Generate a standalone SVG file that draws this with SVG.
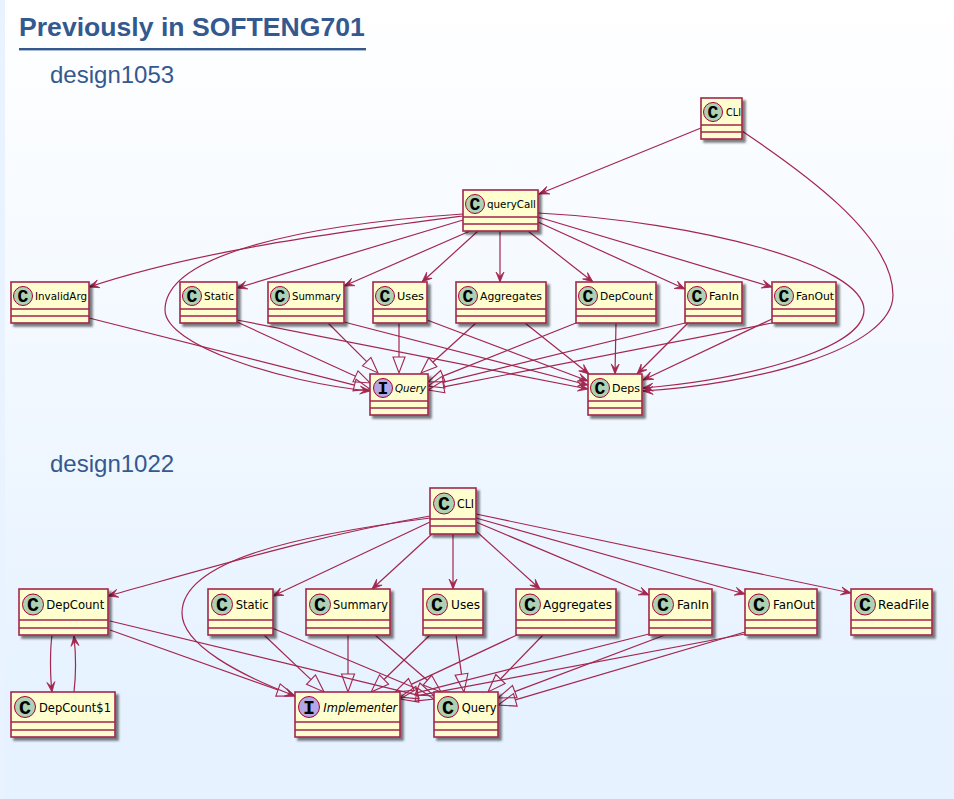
<svg xmlns="http://www.w3.org/2000/svg" width="954" height="799" viewBox="0 0 954 799">
<style>
.n{fill:#FEFECE;stroke:#A3264E;stroke-width:1.6;filter:url(#sh)}
.d{stroke:#A3264E;stroke-width:1.4;fill:none}
.c{fill:#ADD1B2;stroke:#A80036;stroke-width:1}
.i{fill:#B4A7E5;stroke:#A80036;stroke-width:1}
.g{font-family:"Liberation Mono",monospace;font-weight:bold;fill:#000;text-anchor:middle}
.g1{font-size:18px}
.g2{font-size:20px}
.t{font-family:"DejaVu Sans",sans-serif;fill:#000}
.t1{font-size:10.2px}
.t2{font-size:11.7px}
.it{font-style:italic}
.h{font-family:"Liberation Sans",Arial,sans-serif;fill:#34598F}
#edges path{fill:none;stroke:#A3264E;stroke-width:1.2}
.a{marker-end:url(#arrow)}
.e1{marker-end:url(#tri1)}
.e2{marker-end:url(#tri2)}
</style>
<defs>
<linearGradient id="bg" x1="0" y1="0" x2="0" y2="1">
<stop offset="0" stop-color="#FFFFFF"/>
<stop offset="0.88" stop-color="#E6F2FF"/>
<stop offset="1" stop-color="#E6F2FF"/>
</linearGradient>
<filter id="sh" x="-20%" y="-20%" width="140%" height="140%">
<feDropShadow dx="3" dy="3" stdDeviation="1" flood-color="#000" flood-opacity="0.5"/>
</filter>
<marker id="arrow" markerUnits="userSpaceOnUse" markerWidth="12" markerHeight="10" refX="10" refY="4.5" orient="auto" overflow="visible">
<path d="M10,4.5 L0,0.5 L4.5,4.5 L0,8.5 Z" fill="#A3264E" stroke="#A3264E" stroke-width="0.8"/>
</marker>
<marker id="tri1" markerUnits="userSpaceOnUse" markerWidth="18" markerHeight="14" refX="0" refY="7" orient="auto" overflow="visible">
<path d="M0,1 L16,7 L0,13 Z" fill="none" stroke="#A3264E" stroke-width="1.1"/>
</marker>
<marker id="tri2" markerUnits="userSpaceOnUse" markerWidth="20" markerHeight="15" refX="0" refY="7" orient="auto" overflow="visible">
<path d="M0,0.5 L18,7 L0,13.5 Z" fill="none" stroke="#A3264E" stroke-width="1.1"/>
</marker>
</defs>
<rect x="0" y="0" width="954" height="799" fill="url(#bg)"/>
<rect x="0" y="0" width="5" height="799" fill="#E8F3FF"/>
<text class="h" x="19" y="36" font-size="26.6" font-weight="bold">Previously in SOFTENG701</text>
<rect x="19" y="48" width="347" height="2.4" fill="#34598F"/>
<text class="h" x="50" y="83" font-size="24">design1053</text>
<text class="h" x="50" y="472" font-size="24">design1022</text>

<g id="edges">
<path class="a" d="M701,128 L539,194"/>
<path class="a" d="M742,131 C800,170 893,235 893,295 C893,350 750,385 643,391"/>
<path class="a" d="M463,216 C340,232 200,250 89,287"/>
<path class="a" d="M463,214 C300,225 165,255 165,310 C165,345 280,382 370,391"/>
<path class="a" d="M463,220 L237,288"/>
<path class="a" d="M470,231 L344,286"/>
<path class="a" d="M478,231 L422,282"/>
<path class="a" d="M500,231 L500,282"/>
<path class="a" d="M528,231 L593,282"/>
<path class="a" d="M538,222 L685,289"/>
<path class="a" d="M538,217 L772,287"/>
<path class="a" d="M538,213 C700,222 864,265 864,310 C864,350 740,380 643,388"/>
<path class="e1" d="M89,318 L354.5,385.1"/>
<path class="e1" d="M237,322 L355.5,376.3"/>
<path class="e1" d="M328,323 L366.7,361.7"/>
<path class="e1" d="M399,323 L399,357"/>
<path class="e1" d="M476,323 L432.8,362.2"/>
<path class="e1" d="M576,323 L442.9,376.1"/>
<path class="e1" d="M685,323 L443.5,382.2"/>
<path class="e1" d="M772,323 L443.7,386.9"/>
<path class="a" d="M237,320 L588,389"/>
<path class="a" d="M344,322 L588,385"/>
<path class="a" d="M427,320 L588,381"/>
<path class="a" d="M525,323 L589,374"/>
<path class="a" d="M616,323 L615,374"/>
<path class="a" d="M688,323 L637,374"/>
<path class="a" d="M772,319 L643,380"/>

<path class="a" d="M430,516 C320,535 220,565 108,596"/>
<path class="a" d="M430,518 C300,535 182,560 182,613 C182,645 240,675 295,696"/>
<path class="a" d="M430,522 L273,596"/>
<path class="a" d="M432,534 L372,589"/>
<path class="a" d="M453,534 L453,589"/>
<path class="a" d="M476,531 L540,589"/>
<path class="a" d="M476,522 L649,595"/>
<path class="a" d="M476,518 L745,594"/>
<path class="a" d="M476,514 L851,593"/>
<path class="a" d="M52,635 C50,650 50,675 52,692"/>
<path class="a" d="M74,692 C76,675 76,655 74,636"/>
<path class="e2" d="M110,630 L278,690"/>
<path class="e2" d="M264,635 L311,679.6"/>
<path class="e2" d="M348,635 L348,674"/>
<path class="e2" d="M430,635 L384,679.5"/>
<path class="e2" d="M517,635 L411.3,684.4"/>
<path class="e2" d="M649,634 L417.5,692.6"/>
<path class="e2" d="M745,634 L417.7,695.7"/>
<path class="e2" d="M110,621 L416.5,694.8"/>
<path class="e2" d="M272,628 L417.4,689"/>
<path class="e2" d="M375,635 L427.4,680.2"/>
<path class="e2" d="M456,635 L461.5,674.2"/>
<path class="e2" d="M543,635 L500.5,679"/>
<path class="e2" d="M665,635 L514.8,691.6"/>
<path class="e2" d="M745,632 L515.3,699.9"/>
</g>

<g id="d1-cli"><rect class="n" x="701" y="98" width="41" height="41"/><path class="d" d="M701,125 H742 M701,132 H742"/><circle class="c" cx="713" cy="112" r="9.5"/><text class="g g1" x="713" y="117.5">C</text><text class="t t1" x="726" y="116" textLength="15" lengthAdjust="spacingAndGlyphs">CLI</text></g>
<g id="d1-querycall"><rect class="n" x="463" y="190" width="75" height="41"/><path class="d" d="M463,217 H538 M463,224 H538"/><circle class="c" cx="475" cy="204" r="9.5"/><text class="g g1" x="475" y="209.5">C</text><text class="t t1" x="487" y="208" textLength="49" lengthAdjust="spacingAndGlyphs">queryCall</text></g>
<g id="d1-invalidarg"><rect class="n" x="11" y="282" width="78" height="41"/><path class="d" d="M11,309 H89 M11,316 H89"/><circle class="c" cx="23" cy="296" r="9.5"/><text class="g g1" x="23" y="301.5">C</text><text class="t t1" x="35" y="300" textLength="52" lengthAdjust="spacingAndGlyphs">InvalidArg</text></g>
<g id="d1-static"><rect class="n" x="180" y="282" width="57" height="41"/><path class="d" d="M180,309 H237 M180,316 H237"/><circle class="c" cx="192" cy="296" r="9.5"/><text class="g g1" x="192" y="301.5">C</text><text class="t t1" x="204" y="300" textLength="30" lengthAdjust="spacingAndGlyphs">Static</text></g>
<g id="d1-summary"><rect class="n" x="268" y="282" width="76" height="41"/><path class="d" d="M268,309 H344 M268,316 H344"/><circle class="c" cx="280" cy="296" r="9.5"/><text class="g g1" x="280" y="301.5">C</text><text class="t t1" x="292" y="300" textLength="49" lengthAdjust="spacingAndGlyphs">Summary</text></g>
<g id="d1-uses"><rect class="n" x="373" y="282" width="54" height="41"/><path class="d" d="M373,309 H427 M373,316 H427"/><circle class="c" cx="385" cy="296" r="9.5"/><text class="g g1" x="385" y="301.5">C</text><text class="t t1" x="397" y="300" textLength="27" lengthAdjust="spacingAndGlyphs">Uses</text></g>
<g id="d1-aggregates"><rect class="n" x="456" y="282" width="90" height="41"/><path class="d" d="M456,309 H546 M456,316 H546"/><circle class="c" cx="468" cy="296" r="9.5"/><text class="g g1" x="468" y="301.5">C</text><text class="t t1" x="480" y="300" textLength="62" lengthAdjust="spacingAndGlyphs">Aggregates</text></g>
<g id="d1-depcount"><rect class="n" x="576" y="282" width="80" height="41"/><path class="d" d="M576,309 H656 M576,316 H656"/><circle class="c" cx="588" cy="296" r="9.5"/><text class="g g1" x="588" y="301.5">C</text><text class="t t1" x="600" y="300" textLength="53" lengthAdjust="spacingAndGlyphs">DepCount</text></g>
<g id="d1-fanin"><rect class="n" x="685" y="282" width="57" height="41"/><path class="d" d="M685,309 H742 M685,316 H742"/><circle class="c" cx="697" cy="296" r="9.5"/><text class="g g1" x="697" y="301.5">C</text><text class="t t1" x="709" y="300" textLength="30" lengthAdjust="spacingAndGlyphs">FanIn</text></g>
<g id="d1-fanout"><rect class="n" x="772" y="282" width="64" height="41"/><path class="d" d="M772,309 H836 M772,316 H836"/><circle class="c" cx="784" cy="296" r="9.5"/><text class="g g1" x="784" y="301.5">C</text><text class="t t1" x="796" y="300" textLength="38" lengthAdjust="spacingAndGlyphs">FanOut</text></g>
<g id="d1-query"><rect class="n" x="370" y="374" width="58" height="41"/><path class="d" d="M370,401 H428 M370,408 H428"/><circle class="i" cx="383" cy="388" r="9.5"/><text class="g g1" x="383" y="393.5">I</text><text class="t t1 it" x="395" y="392" textLength="31" lengthAdjust="spacingAndGlyphs">Query</text></g>
<g id="d1-deps"><rect class="n" x="588" y="374" width="54" height="41"/><path class="d" d="M588,401 H642 M588,408 H642"/><circle class="c" cx="600" cy="388" r="9.5"/><text class="g g1" x="600" y="393.5">C</text><text class="t t1" x="612" y="392" textLength="28" lengthAdjust="spacingAndGlyphs">Deps</text></g>

<g id="d2-cli"><rect class="n" x="430" y="488" width="46" height="46"/><path class="d" d="M430,519 H476 M430,526 H476"/><circle class="c" cx="444" cy="503.5" r="10.5"/><text class="g g2" x="444" y="510">C</text><text class="t t2" x="457" y="508" textLength="17" lengthAdjust="spacingAndGlyphs">CLI</text></g>
<g id="d2-depcount"><rect class="n" x="19" y="589" width="89" height="46"/><path class="d" d="M19,620 H108 M19,628 H108"/><circle class="c" cx="33" cy="604.5" r="10.5"/><text class="g g2" x="33" y="611">C</text><text class="t t2" x="46.3" y="609" textLength="58" lengthAdjust="spacingAndGlyphs">DepCount</text></g>
<g id="d2-static"><rect class="n" x="208" y="589" width="65" height="46"/><path class="d" d="M208,620 H273 M208,628 H273"/><circle class="c" cx="222" cy="604.5" r="10.5"/><text class="g g2" x="222" y="611">C</text><text class="t t2" x="235.7" y="609" textLength="33" lengthAdjust="spacingAndGlyphs">Static</text></g>
<g id="d2-summary"><rect class="n" x="306" y="589" width="84" height="46"/><path class="d" d="M306,620 H390 M306,628 H390"/><circle class="c" cx="320" cy="604.5" r="10.5"/><text class="g g2" x="320" y="611">C</text><text class="t t2" x="333" y="609" textLength="55" lengthAdjust="spacingAndGlyphs">Summary</text></g>
<g id="d2-uses"><rect class="n" x="423" y="589" width="60" height="46"/><path class="d" d="M423,620 H483 M423,628 H483"/><circle class="c" cx="437" cy="604.5" r="10.5"/><text class="g g2" x="437" y="611">C</text><text class="t t2" x="451" y="609" textLength="29" lengthAdjust="spacingAndGlyphs">Uses</text></g>
<g id="d2-aggregates"><rect class="n" x="516" y="589" width="100" height="46"/><path class="d" d="M516,620 H616 M516,628 H616"/><circle class="c" cx="530" cy="604.5" r="10.5"/><text class="g g2" x="530" y="611">C</text><text class="t t2" x="543" y="609" textLength="69" lengthAdjust="spacingAndGlyphs">Aggregates</text></g>
<g id="d2-fanin"><rect class="n" x="649" y="589" width="63" height="46"/><path class="d" d="M649,620 H712 M649,628 H712"/><circle class="c" cx="663" cy="604.5" r="10.5"/><text class="g g2" x="663" y="611">C</text><text class="t t2" x="677" y="609" textLength="32" lengthAdjust="spacingAndGlyphs">FanIn</text></g>
<g id="d2-fanout"><rect class="n" x="745" y="589" width="72" height="46"/><path class="d" d="M745,620 H817 M745,628 H817"/><circle class="c" cx="759" cy="604.5" r="10.5"/><text class="g g2" x="759" y="611">C</text><text class="t t2" x="773" y="609" textLength="42" lengthAdjust="spacingAndGlyphs">FanOut</text></g>
<g id="d2-readfile"><rect class="n" x="851" y="589" width="81" height="46"/><path class="d" d="M851,620 H932 M851,628 H932"/><circle class="c" cx="865" cy="604.5" r="10.5"/><text class="g g2" x="865" y="611">C</text><text class="t t2" x="878" y="609" textLength="51" lengthAdjust="spacingAndGlyphs">ReadFile</text></g>
<g id="d2-depcount1"><rect class="n" x="11" y="692" width="104" height="45"/><path class="d" d="M11,722 H115 M11,730 H115"/><circle class="c" cx="25" cy="707" r="10.5"/><text class="g g2" x="25" y="713.5">C</text><text class="t t2" x="39" y="711.5" textLength="72" lengthAdjust="spacingAndGlyphs">DepCount$1</text></g>
<g id="d2-implementer"><rect class="n" x="295" y="692" width="105" height="45"/><path class="d" d="M295,722 H400 M295,730 H400"/><circle class="i" cx="309" cy="707" r="10.5"/><text class="g g2" x="309" y="713.5">I</text><text class="t t2 it" x="323.3" y="711.5" textLength="74" lengthAdjust="spacingAndGlyphs">Implementer</text></g>
<g id="d2-query"><rect class="n" x="434" y="692" width="64" height="45"/><path class="d" d="M434,722 H498 M434,730 H498"/><circle class="c" cx="448" cy="707" r="10.5"/><text class="g g2" x="448" y="713.5">C</text><text class="t t2" x="461.7" y="711.5" textLength="35" lengthAdjust="spacingAndGlyphs">Query</text></g>
</svg>
